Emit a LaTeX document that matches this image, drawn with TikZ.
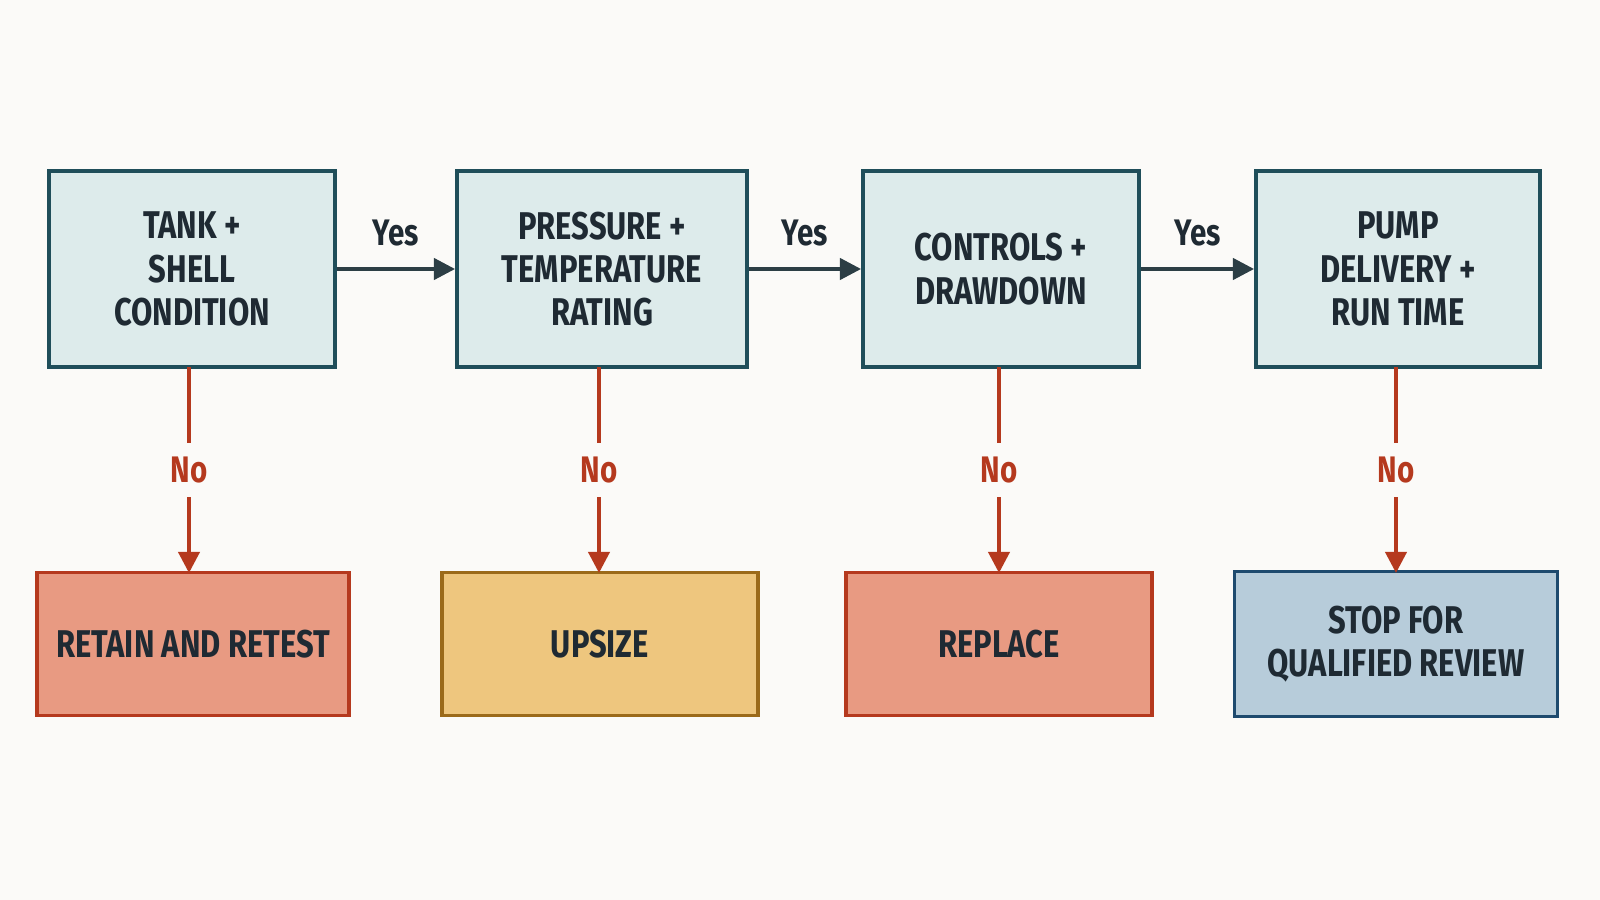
\documentclass[tikz,border=0pt]{standalone}
\usepackage{fontspec}
\setmainfont{Fira Sans}[FakeStretch=0.8]
\usetikzlibrary{arrows.meta}
\definecolor{bg}{HTML}{FBFAF8}
\definecolor{tfill}{HTML}{DDEBEB}
\definecolor{tline}{HTML}{1F4E5A}
\definecolor{rfill}{HTML}{E89A82}
\definecolor{rline}{HTML}{B5391E}
\definecolor{yfill}{HTML}{EEC67E}
\definecolor{yline}{HTML}{9B6A1A}
\definecolor{bfill}{HTML}{B7CCDA}
\definecolor{bline}{HTML}{1E4A6E}
\definecolor{txt}{HTML}{1F2A33}
\definecolor{yesc}{HTML}{2C3E45}
\begin{document}
\begin{tikzpicture}[x=0.1mm,y=-0.1mm,
 box/.style={draw,line width=1.1pt,text=txt,align=center,font=\bfseries\fontsize{11}{12.3}\selectfont,inner sep=0pt},
 top/.style={box,fill=tfill,draw=tline},
 yes/.style={-{Triangle[length=6pt,width=6pt]},line width=1.1pt,draw=yesc},
 no/.style={-{Triangle[length=6pt,width=6pt]},line width=1.1pt,draw=rline},
 lab/.style={font=\bfseries\fontsize{10.5}{12}\selectfont,inner sep=2pt}]
\fill[bg] (0,0) rectangle (1600,900);
\node[top,minimum width=28.6mm,minimum height=19.6mm] (t1) at (192,269) {TANK +\\SHELL\\CONDITION};
\node[top,minimum width=29mm,minimum height=19.6mm] (t2) at (602,269) {PRESSURE +\\TEMPERATURE\\RATING};
\node[top,minimum width=27.6mm,minimum height=19.6mm] (t3) at (1001,269) {CONTROLS +\\DRAWDOWN};
\node[top,minimum width=28.4mm,minimum height=19.6mm] (t4) at (1398,269) {PUMP\\DELIVERY +\\RUN TIME};
\node[box,fill=rfill,draw=rline,minimum width=31.2mm,minimum height=14.3mm] (b1) at (193,644) {RETAIN AND RETEST};
\node[box,fill=yfill,draw=yline,minimum width=31.6mm,minimum height=14.3mm] (b2) at (600,644) {UPSIZE};
\node[box,fill=rfill,draw=rline,minimum width=30.6mm,minimum height=14.3mm] (b3) at (999,644) {REPLACE};
\node[box,fill=bfill,draw=bline,minimum width=32.3mm,minimum height=14.5mm] (b4) at (1396,644) {STOP FOR\\QUALIFIED REVIEW};
\draw[yes] (t1) -- node[lab,above=4pt,text=txt]{Yes} (t2);
\draw[yes] (t2) -- node[lab,above=4pt,text=txt]{Yes} (t3);
\draw[yes] (t3) -- node[lab,above=4pt,text=txt]{Yes} (t4);
\foreach \i/\x in {1/189,2/599,3/999,4/1396}{
 \draw[no] (\x,367) -- node[lab,fill=bg,text=rline,minimum height=5.4mm]{No} (\x,573);
}
\end{tikzpicture}
\end{document}
